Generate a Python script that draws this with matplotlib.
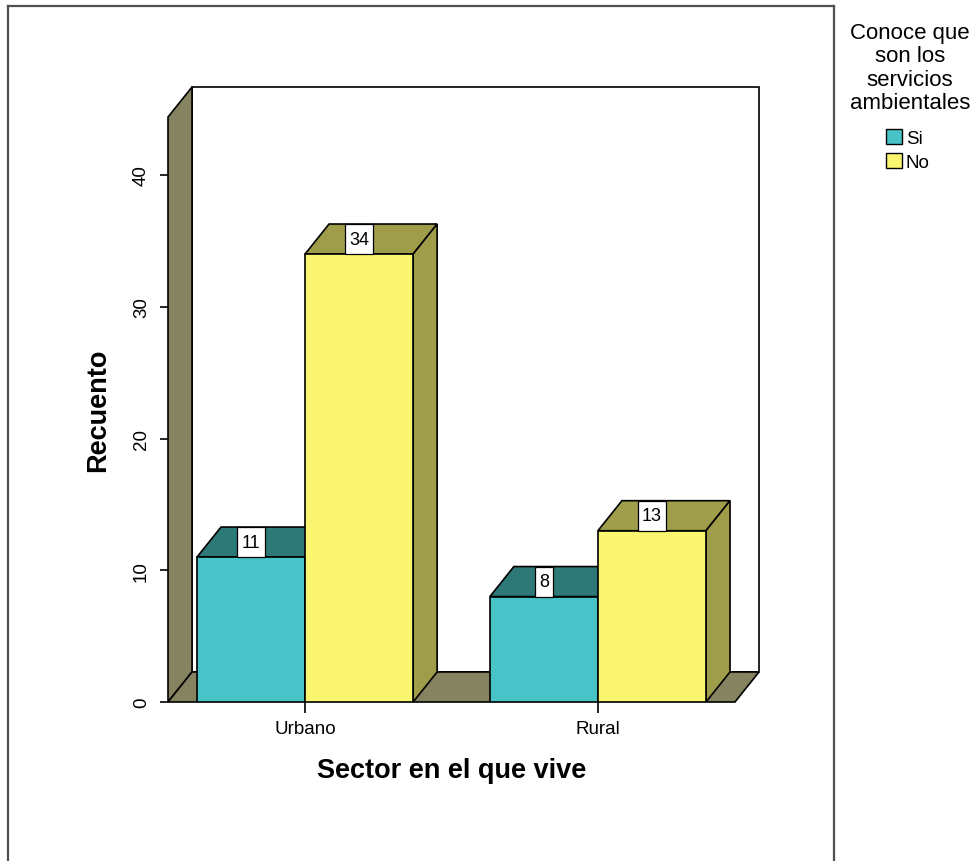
import matplotlib.pyplot as plt
from matplotlib.lines import Line2D
from matplotlib.patches import Patch, Polygon, Rectangle

plt.rcParams["font.family"] = ["Liberation Sans", "DejaVu Sans"]

# data
sectors = ["Urbano", "Rural"]
answers = ["Si", "No"]
counts = {"Si": [11, 8], "No": [34, 13]}
y_ticks = [0, 10, 20, 30, 40]
legend_title = "Conoce que\nson los\nservicios\nambientales"

FRONT_COLORS = {"Si": "#48C3C8", "No": "#FAF670"}
SHADE_COLORS = {"Si": "#2C7977", "No": "#A09D4A"}
WALL_COLOR = "#858360"

# pseudo-3D geometry (data units)
BAR_W = 0.369
DEPTH_X = 0.082
DEPTH_Y = 2.28
X_LEFT, X_RIGHT = -0.468, 1.468
WALL_TOP = 44.4
LW = 1.2

W, H = 975, 862
fig = plt.figure(figsize=(W / 100, H / 100), dpi=100)

# outer frame
for xs, ys in [((8, 8), (0, 855)), ((8, 834), (855, 855)), ((834, 834), (855, 0))]:
    fig.add_artist(Line2D([x / W for x in xs], [y / H for y in ys], color="#505050", lw=1.6))

ax = fig.add_axes([168 / W, 1 - 703 / H, 591 / W, 615 / H])
ax.set_xlim(X_LEFT, X_RIGHT + DEPTH_X)
ax.set_ylim(0, WALL_TOP + DEPTH_Y)
for s in ax.spines.values():
    s.set_visible(False)
ax.patch.set_visible(False)

# back wall, left wall, floor
ax.add_patch(Rectangle((X_LEFT + DEPTH_X, DEPTH_Y), X_RIGHT - X_LEFT, WALL_TOP,
                       fc="white", ec="black", lw=LW, clip_on=False, zorder=1))
ax.add_patch(Polygon([(X_LEFT, 0), (X_LEFT, WALL_TOP), (X_LEFT + DEPTH_X, WALL_TOP + DEPTH_Y),
                      (X_LEFT + DEPTH_X, DEPTH_Y)], closed=True,
                     fc=WALL_COLOR, ec="black", lw=LW, clip_on=False, zorder=1))
ax.add_patch(Polygon([(X_LEFT, 0), (X_RIGHT, 0), (X_RIGHT + DEPTH_X, DEPTH_Y),
                      (X_LEFT + DEPTH_X, DEPTH_Y)], closed=True,
                     fc=WALL_COLOR, ec="black", lw=LW, clip_on=False, zorder=1))

# bars
for i, sector in enumerate(sectors):
    for j, ans in enumerate(answers):
        h = counts[ans][i]
        x0 = i - BAR_W + j * BAR_W
        top = [(x0, h), (x0 + BAR_W, h), (x0 + BAR_W + DEPTH_X, h + DEPTH_Y), (x0 + DEPTH_X, h + DEPTH_Y)]
        side = [(x0 + BAR_W, 0), (x0 + BAR_W + DEPTH_X, DEPTH_Y),
                (x0 + BAR_W + DEPTH_X, h + DEPTH_Y), (x0 + BAR_W, h)]
        z = 2 + i + j * 0.1
        ax.add_patch(Polygon(top, closed=True, fc=SHADE_COLORS[ans], ec="black", lw=LW, zorder=z))
        ax.add_patch(Polygon(side, closed=True, fc=SHADE_COLORS[ans], ec="black", lw=LW, zorder=z))
        ax.add_patch(Rectangle((x0, 0), BAR_W, h, fc=FRONT_COLORS[ans], ec="black", lw=LW, zorder=z))
        # value label box spans the top face depth
        label = str(h)
        bw = 0.026 + 0.036 * len(label)
        xc = x0 + BAR_W / 2
        ax.add_patch(Rectangle((xc - bw / 2, h), bw, DEPTH_Y, fc="white", ec="black", lw=0.9,
                               zorder=z + 0.04))
        ax.text(xc, h + DEPTH_Y / 2, label, ha="center", va="center", fontsize=13, zorder=z + 0.05)

ax.set_xticks(range(len(sectors)))
ax.set_xticklabels(sectors, fontsize=13.5)
ax.set_yticks(y_ticks)
ax.set_yticklabels([str(t) for t in y_ticks], fontsize=13.5, rotation=90, va="center")
ax.tick_params(axis="x", length=8, width=1.2, pad=5, direction="out")
ax.tick_params(axis="y", length=6, width=1.2, pad=7, direction="out")

ax.text(0.5, -(771 - 703) / 615, "Sector en el que vive", transform=ax.get_xaxis_transform(),
        ha="center", va="center", fontsize=19.5, fontweight="bold")
ax.text(-(168 - 98) / 591, WALL_TOP / 2, "Recuento", transform=ax.get_yaxis_transform(),
        ha="center", va="center", rotation=90, fontsize=19.5, fontweight="bold")

# legend: title as its own text, entries below
fig.text(910 / W, 1 - 23 / H, legend_title, ha="center", va="top", multialignment="center",
         fontsize=16, linespacing=1.15)
handles = [Patch(fc=FRONT_COLORS[a], ec="black", lw=1.0, label=a) for a in answers]
fig.legend(handles=handles, loc="center", bbox_to_anchor=(908 / W, 1 - 151 / H), frameon=False,
           fontsize=13.5, handlelength=0.85, handleheight=0.85, handletextpad=0.2,
           labelspacing=0.3, borderpad=0.0)

fig.savefig("out.png", dpi=100)
